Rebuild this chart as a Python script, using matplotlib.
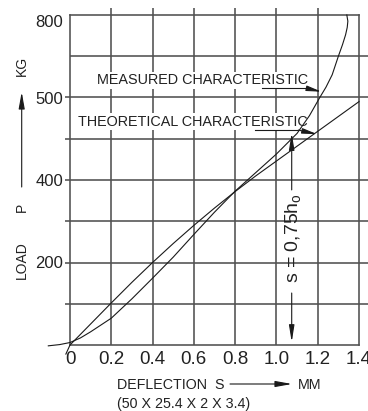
import matplotlib
matplotlib.use('Agg')
import matplotlib.pyplot as plt

# ---------------- data ----------------
deflection_ticks = [0, 0.2, 0.4, 0.6, 0.8, 1.0, 1.2, 1.4]
deflection_labels = ["0", "0.2", "0.4", "0.6", "0.8", "1.0", "1.2", "1.4"]
load_ticks = [200, 400, 600, 800]
load_labels = ["200", "400", "500", "800"]

grid_s = [0.2, 0.4, 0.6, 0.8, 1.0, 1.2]
grid_p = [100, 200, 300, 400, 500, 600, 700]

measured_s = [-0.105, -0.05, 0.0, 0.05, 0.1, 0.2, 0.3, 0.4, 0.5, 0.6, 0.7, 0.8,
              0.9, 1.0, 1.1, 1.16, 1.21, 1.24, 1.27, 1.30, 1.32, 1.335, 1.343,
              1.346, 1.341]
measured_p = [-2, 1, 6, 17, 32, 65, 112, 162, 213, 268, 322, 373,
              418, 463, 513, 556, 600, 625, 655, 700, 728, 752, 770,
              785, 800]

theoretical_s = [-0.02, 0.0, 0.1, 0.2, 0.3, 0.4, 0.5, 0.6, 0.7, 0.8, 0.9, 1.0,
                 1.1, 1.2, 1.3, 1.4]
theoretical_p = [-22, 0, 51, 102, 152, 200, 246, 290, 332, 372, 410, 446,
                 482, 518, 554, 590]

s_mark = 1.074          # s = 0,75 h0
s_mark_top = 514
s_mark_bottom = 7

# ---------------- style ----------------
plt.rcParams['font.family'] = ['Liberation Sans', 'DejaVu Sans']
GRID = '#505050'
INK = '#1a1a1a'
TXT = '#222222'

W, H = 368, 411
fig = plt.figure(figsize=(W / 100, H / 100), dpi=100)
ax = fig.add_axes([70 / W, 66 / H, 289 / W, 330 / H])
ax.set_xlim(0, 1.4)
ax.set_ylim(0, 800)

for sp in ax.spines.values():
    sp.set_color(GRID)
    sp.set_linewidth(1.15)

# grid lines (extend beyond the frame like the drawing)
xmins = [-0.024] * len(grid_p)
xmins[-1] = 0.0
ax.hlines(grid_p, xmins, 1.45, colors=GRID, lw=1.15, clip_on=False, zorder=1)
ax.vlines(grid_s, 0, 818, colors=GRID, lw=1.15, clip_on=False, zorder=1)

# ticks
ax.set_xticks(deflection_ticks, deflection_labels, fontsize=13.5)
ax.set_yticks(load_ticks, load_labels, fontsize=12)
ax.tick_params(length=0, colors=TXT)
ax.tick_params(axis='x', pad=4)
ax.tick_params(axis='y', pad=5)
ax.get_yticklabels()[-1].set_va('top')

# curves
ax.plot(measured_s, measured_p, color=INK, lw=0.8, clip_on=False, zorder=4)
ax.plot(theoretical_s, theoretical_p, color=INK, lw=0.8, clip_on=False, zorder=4)

# labels of the curves
bb = dict(boxstyle='square,pad=0.1', fc='white', ec='none')
ax.text(0.129, 642, 'MEASURED CHARACTERISTIC', fontsize=10.4, ha='left',
        va='center', color=TXT, bbox=bb, zorder=3)
ax.text(0.037, 541, 'THEORETICAL CHARACTERISTIC', fontsize=10.4, ha='left',
        va='center', color=TXT, bbox=bb, zorder=3)

ap = dict(arrowstyle='-|>,head_length=0.9,head_width=0.16', color=INK, lw=0.8,
          shrinkA=0, shrinkB=0, mutation_scale=10)
ax.plot([0.93, 1.148], [622, 622], color=INK, lw=0.8, zorder=4)
ax.annotate('', xy=(1.219, 614), xytext=(1.148, 622), arrowprops=ap, zorder=4)
ax.plot([0.896, 1.106], [521, 521], color=INK, lw=0.8, zorder=4)
ax.annotate('', xy=(1.198, 511), xytext=(1.106, 521), arrowprops=ap, zorder=4)

# s = 0,75 h0 dimension arrow
ap2 = dict(arrowstyle='-|>,head_length=1.0,head_width=0.16', color=INK, lw=0.8,
           shrinkA=0, shrinkB=0, mutation_scale=10)
ax.annotate('', xy=(s_mark, s_mark_top), xytext=(s_mark, 376), arrowprops=ap2, zorder=4)
ax.annotate('', xy=(s_mark, s_mark_bottom), xytext=(s_mark, 126), arrowprops=ap2, zorder=4)
ax.text(s_mark + 0.008, 259, 's = 0,75h$_\\mathregular{o}$', fontsize=14,
        rotation=90, ha='center', va='center', color=TXT, zorder=4)

# y axis legend
fx = 21.7 / W
fig.text(fx, 1 - 66 / H, 'KG', rotation=90, fontsize=10, ha='center', va='center', color=TXT)
fig.text(fx, 1 - 207 / H, 'P', rotation=90, fontsize=10, ha='center', va='center', color=TXT)
fig.text(fx, 1 - 260 / H, 'LOAD', rotation=90, fontsize=10, ha='center', va='center', color=TXT)
fig.add_artist(matplotlib.patches.FancyArrowPatch(
    (fx, 1 - 187 / H), (fx, 1 - 92 / H), transform=fig.transFigure,
    arrowstyle='-|>,head_length=1.0,head_width=0.18', mutation_scale=10,
    color=INK, lw=0.8, shrinkA=0, shrinkB=0))

# x axis legend
fig.text(117 / W, 1 - 385 / H, 'DEFLECTION  S', fontsize=10.3, ha='left', va='center', color=TXT)
fig.text(298 / W, 1 - 385 / H, 'MM', fontsize=10.3, ha='left', va='center', color=TXT)
fig.text(117 / W, 1 - 404 / H, '(50 X 25.4 X 2 X 3.4)', fontsize=10.3, ha='left', va='center', color=TXT)
fig.add_artist(matplotlib.patches.FancyArrowPatch(
    (230 / W, 1 - 384 / H), (292 / W, 1 - 384 / H), transform=fig.transFigure,
    arrowstyle='-|>,head_length=1.0,head_width=0.18', mutation_scale=10,
    color=INK, lw=0.8, shrinkA=0, shrinkB=0))

fig.savefig('out.png', dpi=100, facecolor='white')
